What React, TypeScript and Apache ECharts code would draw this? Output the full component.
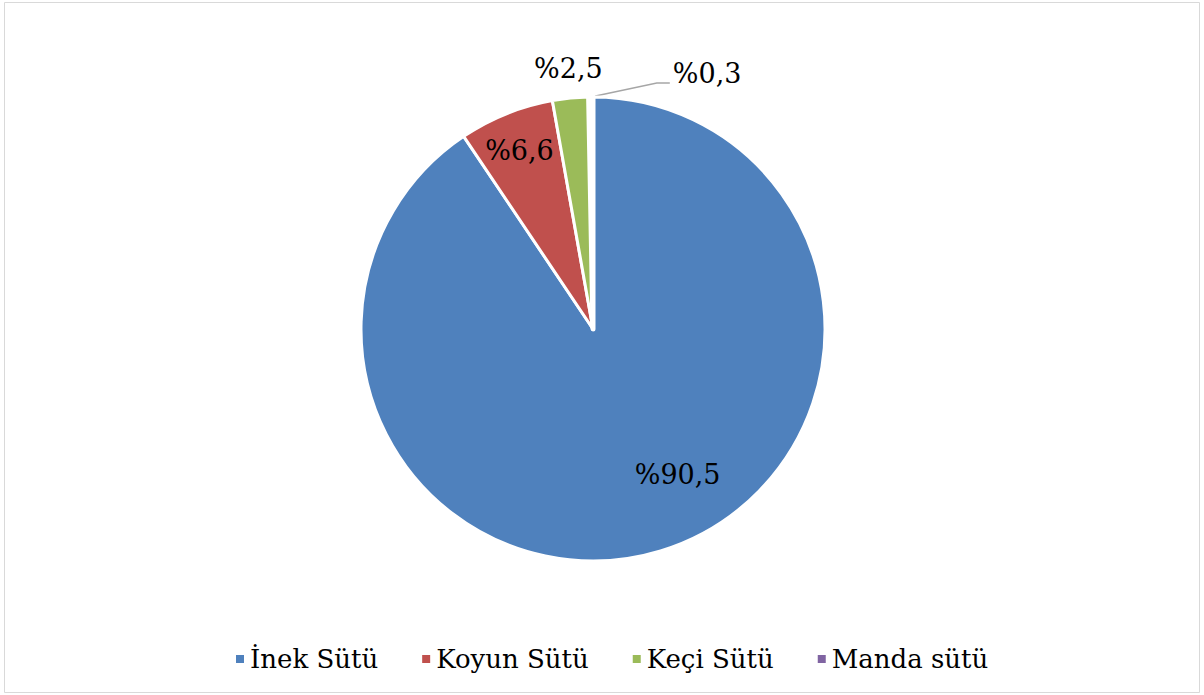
import React, { useEffect, useRef } from "react";
import * as echarts from "echarts";

const categories = ["İnek Sütü", "Koyun Sütü", "Keçi Sütü", "Manda sütü"];
const values = [90.5, 6.6, 2.5, 0.3];
const colors = ["#4F81BD", "#C0504D", "#9BBB59", "#8064A2"];

const FONT = "DejaVu Serif";
const FS = 26;

export default function App() {
  const ref = useRef<HTMLDivElement>(null);
  useEffect(() => {
    document.body.style.margin = "0";
    const chart = echarts.init(ref.current!, undefined, { renderer: "svg" });
    const cx = 593;
    const cy = 329;
    const r = 232;
    chart.setOption({
      animation: false,
      backgroundColor: "#ffffff",
      textStyle: { fontFamily: FONT },
      graphic: [
        {
          type: "rect",
          shape: { x: 4.5, y: 2.5, width: 1195, height: 690 },
          style: { fill: "none", stroke: "#d9d9d9", lineWidth: 1 },
          silent: true,
        },
      ],
      legend: {
        data: categories,
        left: 229,
        top: 641,
        icon: "rect",
        itemWidth: 10,
        itemHeight: 10,
        itemGap: 42,
        textStyle: { fontFamily: FONT, fontSize: FS, color: "#000" },
      },
      series: [
        {
          type: "pie",
          center: [cx, cy],
          radius: [0, r],
          startAngle: 90,
          clockwise: true,
          avoidLabelOverlap: false,
          itemStyle: { borderColor: "#ffffff", borderWidth: 3 },
          label: {
            position: "inside",
            fontFamily: FONT,
            fontSize: 27,
            color: "#000",
            formatter: (p: any) => "%" + String(p.value).replace(".", ","),
          },
          labelLine: { show: false },
          data: categories.map((name, i) => ({
            name,
            value: values[i],
            itemStyle: i === 3 ? { color: colors[i], borderWidth: 5 } : { color: colors[i] },
            ...(i === 3
              ? {
                  label: { position: "outside" },
                  labelLine: {
                    show: true,
                    length: 10,
                    length2: 10,
                    lineStyle: { color: "#a6a6a6", width: 1.5 },
                  },
                }
              : {}),
          })),
          labelLayout: (p: any) => {
            if (p.dataIndex === 0) return { dx: 50, dy: 32 };
            if (p.dataIndex === 1) return { dx: -29, dy: -68 };
            if (p.dataIndex === 2) return { dx: -13, dy: -142 };
            const s = p.labelLinePoints ? p.labelLinePoints[0] : [cx, cy - r];
            return {
              x: s[0] + 82,
              y: s[1] - 24,
              align: "left",
              verticalAlign: "middle",
              labelLinePoints: [
                [s[0], s[1]],
                [s[0] + 66, s[1] - 14],
                [s[0] + 79, s[1] - 14],
              ],
            };
          },
        },
      ],
    });
    return () => chart.dispose();
  }, []);
  return <div ref={ref} style={{ width: 1204, height: 695 }} />;
}
